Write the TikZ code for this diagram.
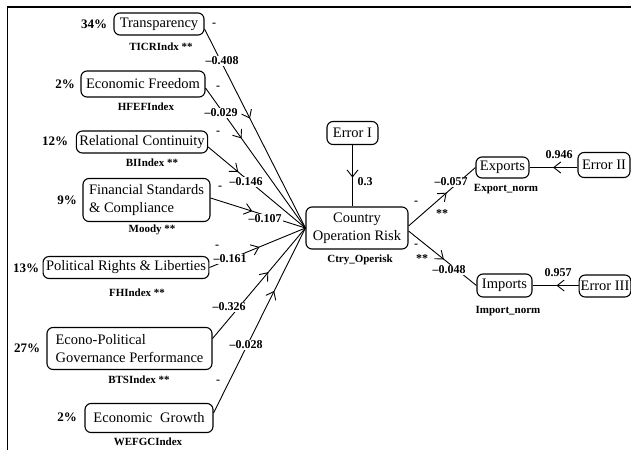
\documentclass[tikz,border=0pt]{standalone}
\usepackage{fontspec}
\setmainfont{Liberation Serif}
\usetikzlibrary{arrows.meta,decorations.markings,calc}
\begin{document}
\begin{tikzpicture}[x=1pt,y=-1pt,
 box/.style={draw, rounded corners=6pt, line width=1.1pt, font=\fontsize{14.5}{18.5}\selectfont, inner xsep=3pt, inner ysep=2pt, align=center},
 lab/.style={font=\bfseries\fontsize{12}{13}\selectfont, inner sep=1pt},
 pct/.style={font=\bfseries\fontsize{13}{14}\selectfont, inner sep=1pt},
 idx/.style={font=\bfseries\fontsize{11}{12}\selectfont, inner sep=1pt},
 onl/.style={lab, fill=white},
 conn/.style={line width=0.9pt},
 mid/.style={conn, postaction={decorate}, decoration={markings, mark=at position #1 with {\arrow[line width=0.9pt]{Straight Barb[length=7pt,width=11pt]}}}}
]
\useasboundingbox (0,0) rectangle (631,450);
% frame
\draw[line width=1.8pt] (631,7) -- (7.5,7);
\draw[line width=1.4pt] (7.5,6.2) -- (7.5,450);

% boxes
\node[box, minimum width=90pt, minimum height=22pt] (tr) at (159,24) {Transparency};
\node[box, minimum width=124pt, minimum height=26pt] (ef) at (143,84) {Economic Freedom};
\node[box, minimum width=131pt, minimum height=22pt] (rc) at (142,142) {Relational Continuity};
\node[box, minimum width=127pt, minimum height=43pt, align=left] (fs) at (146.5,200) {Financial Standards\\\& Compliance};
\node[box, minimum width=162pt, minimum height=22pt] (pr) at (126,267.5) {Political Rights \& Liberties};
\node[box, minimum width=165pt, minimum height=42pt, align=left] (ep) at (129.5,348.5) {Econo-Political\\Governance Performance};
\node[box, minimum width=128pt, minimum height=29pt] (eg) at (149,418) {Economic\hspace{8pt}Growth};
\node[box, minimum width=102pt, minimum height=42pt] (cor) at (357,228) {Country\\Operation Risk};
\node[box, minimum width=51pt, minimum height=23pt] (e1) at (352.5,133) {Error I};
\node[box, minimum width=53pt, minimum height=21pt] (ex) at (502.5,167.5) {Exports};
\node[box, minimum width=52pt, minimum height=25pt, inner xsep=2pt] (e2) at (604,165) {Error II};
\node[box, minimum width=55pt, minimum height=23pt] (im) at (504.5,285.5) {Imports};
\node[box, minimum width=51pt, minimum height=22pt, inner xsep=1.5pt] (e3) at (605,286) {Error III};

% connectors
\draw[mid=0.45] ($(tr.east)+(0,5)$) -- (cor.west);
\draw[mid=0.36] ($(ef.east)+(0,4)$) -- (cor.west);
\draw[mid=0.31] ($(rc.east)+(0,5)$) -- (cor.west);
\draw[mid=0.44] ($(fs.east)+(0,-2)$) -- (cor.west);
\draw[mid=0.52] (pr.east) -- (cor.west);
\draw[mid=0.60] ($(ep.east)+(0,-10)$) -- (cor.west);
\draw[mid=0.66] ($(eg.east)+(0,-5)$) -- (cor.west);
\draw[mid=0.53] (e1.south) -- (e1.south |- cor.north);
\draw[mid=0.57] ($(cor.east)+(0,-2)$) -- (ex.west);
\draw[mid=0.52] ($(cor.east)+(0,3)$) -- (im.west);
\draw[mid=0.51] (ex.east -| e2.west) -- (ex.east);
\draw[mid=0.48] (im.east -| e3.west) -- (im.east);

% percentages
\node[pct] (p1) at (94,24) {34\%};
\node[pct] (p2) at (65,84) {2\%};
\node[pct] (p3) at (55,141) {12\%};
\node[pct] (p4) at (67,200) {9\%};
\node[pct] (p5) at (26,268) {13\%};
\node[pct] (p6) at (27,348) {27\%};
\node[pct] (p7) at (67,417) {2\%};

% index names
\node[idx] (i1) at (161,47) {TICRIndx **};
\node[idx] (i2) at (146,107) {HFEFIndex};
\node[idx] (i3) at (152,163) {BIIndex **};
\node[idx] (i4) at (152,230) {Moody **};
\node[idx] (i5) at (137,293) {FHIndex **};
\node[idx] (i6) at (139,380) {BTSIndex **};
\node[idx] (i7) at (148,442) {WEFGCIndex};
\node[idx] (i8) at (360,260) {Ctry\_Operisk};
\node[idx] (i9) at (506,189) {Export\_norm};
\node[idx] (i10) at (508,311) {Import\_norm};

% signs
\node[lab] (s1) at (214,25) {-};
\node[lab] (s2) at (218,88) {-};
\node[lab] (s3) at (218,133) {-};
\node[lab] (s4) at (220,188) {-};
\node[lab] (s5) at (217,247) {-};
\node[lab] (s6) at (218,382) {-};
\node[lab] (s7) at (416,203) {-};
\node[lab] (s8) at (416,246) {-};
\node[lab] (a1) at (442,214) {**};
\node[lab] (a2) at (422,259) {**};

% coefficients
\node[onl] (c1) at (222,61) {--0.408};
\node[onl] (c2) at (221,113) {--0.029};
\node[onl] (c3) at (246,182) {--0.146};
\node[onl] (c4) at (265,219) {--0.107};
\node[onl] (c5) at (230,259) {--0.161};
\node[onl] (c6) at (229,307) {--0.326};
\node[onl] (c7) at (246,345) {--0.028};
\node[lab] (c8) at (365,182) {0.3};
\node[onl] (c9) at (451,182) {--0.057};
\node[onl] (c10) at (449,270) {--0.048};
\node[lab] (c11) at (559,155) {0.946};
\node[lab] (c12) at (558,273) {0.957};
\end{tikzpicture}
\end{document}
